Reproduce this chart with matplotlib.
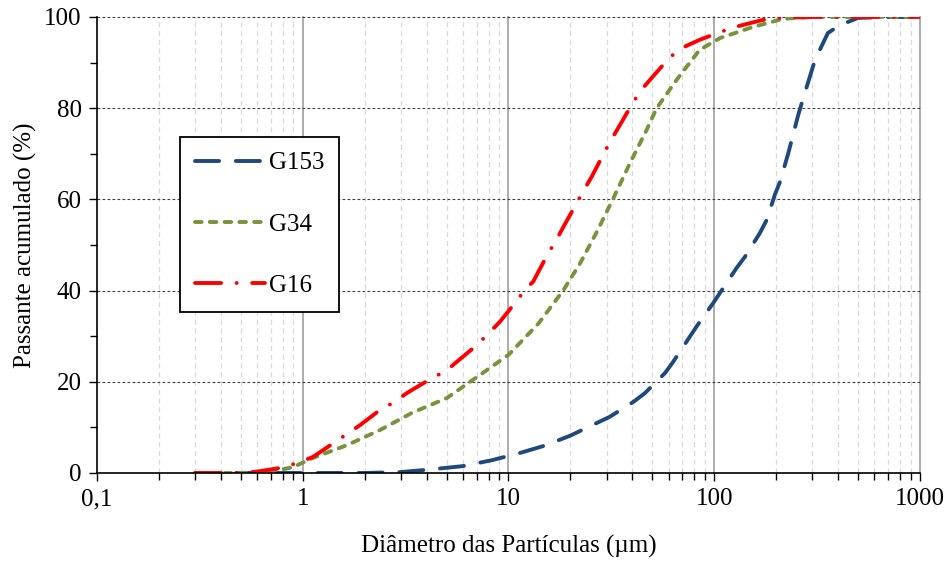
import numpy as np
import matplotlib
matplotlib.use('Agg')
import matplotlib.pyplot as plt
from matplotlib.ticker import FixedLocator, FuncFormatter, NullFormatter

plt.rcParams['font.family'] = ['Liberation Serif', 'DejaVu Serif']

# diâmetro (µm) e passante acumulado (%)
d_g153 = [0.3, 1, 2, 3, 4, 6, 8.3, 11.4, 15, 20, 31, 40.5, 46, 57.6, 63, 82,
          99, 128.6, 141, 166.6, 180, 197, 209, 229, 238, 256, 270, 309, 357,
          408, 500, 700, 1000]
p_g153 = [0, 0, 0, 0.2, 0.7, 1.5, 2.8, 4.4, 6, 8.2, 12.3, 15.6, 17.5, 21.9,
          24.3, 32.1, 37.3, 45, 47.4, 52.6, 55.5, 61, 63.9, 70.1, 73, 78.5, 82,
          90.6, 96.5, 98.2, 99.8, 100, 100]

d_g34 = [0.3, 0.5, 0.6, 0.8, 0.9, 1.12, 1.64, 2.37, 3.4, 5, 7.27, 10, 14,
         18.5, 22.3, 26.9, 32.3, 38.9, 46.9, 52.5, 65.6, 85, 107, 154, 216,
         300, 1000]
p_g34 = [0, 0, 0.2, 0.8, 1.3, 3.3, 6.1, 9.4, 13.2, 16.4, 21.5, 25.9, 32.8,
         40.1, 46, 52.9, 60.2, 67.9, 75.2, 80, 86.2, 92.8, 95.4, 97.8, 99.6,
         100, 100]

d_g16 = [0.3, 0.5, 0.6, 0.8, 0.94, 1.12, 1.9, 2.37, 2.8, 3.2, 4.1, 5, 7, 8,
         9.1, 10.9, 12, 13.2, 15.6, 17, 18.5, 21.4, 23.3, 25.4, 29.4, 31.7,
         34.8, 40.5, 44.4, 50, 61, 69.5, 85, 107, 126, 170, 200, 300, 1000]
p_g16 = [0, 0, 0.3, 1.2, 2.2, 3.5, 10.5, 13.8, 15.6, 17.5, 20.4, 22.5, 28,
         30.6, 33.2, 37.6, 40.1, 42, 48.2, 50.9, 54, 59.1, 62.1, 65, 70.5, 73.2,
         76.3, 81.4, 84.1, 86.8, 91.2, 93.2, 95, 96.7, 97.8, 99.3, 99.8, 100,
         100]

fig = plt.figure(figsize=(9.49, 5.61), dpi=100)
ax = fig.add_axes([0.1022, 0.1569, 0.8672, 0.8128])

ax.set_xscale('log')
ax.set_xlim(0.1, 1000)
ax.set_ylim(0, 100)

# grelha
for x in [1, 10, 100, 1000]:
    ax.axvline(x, color='#A6A6A6', lw=1.3, zorder=0, clip_on=False)
for dec in [0.1, 1, 10, 100]:
    for k in range(2, 10):
        ax.axvline(dec * k, color='#D9D9D9', lw=0.9, ls=(0, (4, 3)), zorder=0)
for y in [20, 40, 60, 80, 100]:
    ax.axhline(y, color='#404040', lw=0.8, ls=(0, (2.5, 2)), zorder=0.5,
               clip_on=False)

lw = 2.8
ax.plot(d_g153, p_g153, color='#1F497D', lw=lw, ls=(0, (6.2, 4.3)),
        label='G153', dash_capstyle='round')
ax.plot(d_g34, p_g34, color='#77933C', lw=lw, ls=(0, (1.7, 2.1)),
        label='G34', dash_capstyle='round')
ax.plot(d_g16, p_g16, color='#FF0000', lw=lw, ls=(0, (6.7, 4.0, 0.01, 4.0)),
        label='G16', dash_capstyle='round')

ax.xaxis.set_major_locator(FixedLocator([0.1, 1, 10, 100, 1000]))
ax.xaxis.set_major_formatter(FuncFormatter(
    lambda v, p: {0.1: '0,1', 1: '1', 10: '10', 100: '100', 1000: '1000'}.get(round(v, 1), '')))
ax.xaxis.set_minor_locator(FixedLocator(
    [d * k for d in [0.1, 1, 10, 100] for k in range(2, 10)]))
ax.xaxis.set_minor_formatter(NullFormatter())
ax.set_yticks([0, 20, 40, 60, 80, 100])
ax.set_yticks([10, 30, 50, 70, 90], minor=True)

ax.tick_params(which='both', direction='out', labelsize=18, width=1, color='black')
ax.tick_params(which='major', length=6, pad=5)
ax.tick_params(which='minor', length=5)
ax.spines['top'].set_visible(False)
ax.spines['right'].set_visible(False)
ax.spines['left'].set_linewidth(1.2)
ax.spines['bottom'].set_linewidth(1.2)

ax.set_xlabel('Diâmetro das Partículas (µm)', fontsize=18, labelpad=18)
ax.set_ylabel('Passante acumulado (%)', fontsize=18, labelpad=5)

leg = ax.legend(loc='upper left', bbox_to_anchor=(0.101, 0.737), fontsize=18,
                frameon=True, fancybox=False, edgecolor='black', framealpha=1,
                handlelength=2.8, handletextpad=0.15, labelspacing=1.55,
                borderpad=0.6, borderaxespad=0)
leg.get_frame().set_linewidth(1.3)

fig.savefig('out.png', dpi=100)
